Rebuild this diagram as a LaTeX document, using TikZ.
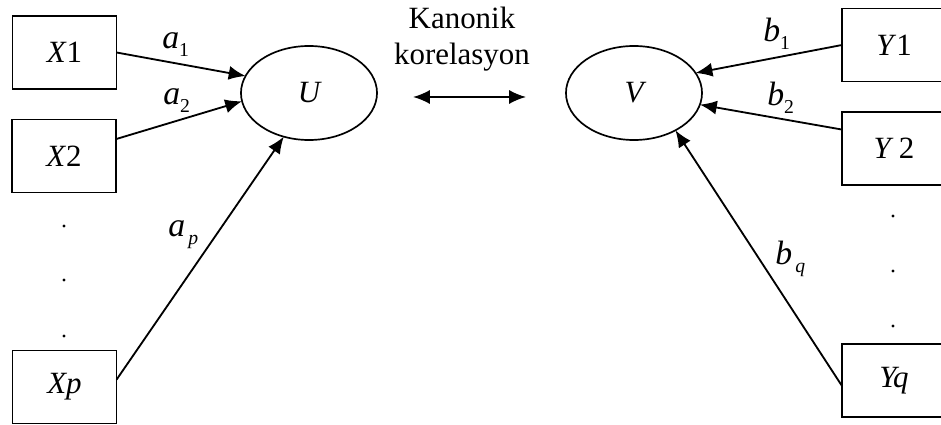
\documentclass[tikz,border=0pt]{standalone}
\usepackage{fontspec}
\setmainfont{Liberation Serif}
\usetikzlibrary{shapes.geometric,arrows.meta}

\newcommand{\coef}[2]{\textit{#1}\raisebox{-5pt}{\fontsize{14}{14}\selectfont #2}}

\begin{document}
\begin{tikzpicture}[x=0.025cm, y=-0.025cm,
	varbox/.style={shape=rectangle, draw=black, line width=1.3pt, minimum width=2.6cm, minimum height=1.825cm, inner sep=0pt, outer sep=0pt, font=\fontsize{22}{26}\selectfont},
	latent/.style={shape=ellipse, draw=black, line width=1.2pt, minimum width=3.4cm, minimum height=2.35cm, inner sep=0pt, outer sep=0pt, font=\fontsize{22}{26}\selectfont\itshape},
	coefl/.style={anchor=base west, inner sep=0pt, font=\fontsize{24}{28}\selectfont},
	link/.style={->, line width=1.3pt},
	>={Latex[length=12pt,width=10pt]}]
	
	\useasboundingbox (0,0) rectangle (941,425);
	
	\node[varbox] (x1) at (64.5, 52.5)  {\textit{X}1};
	\node[varbox] (x2) at (64, 156)     {\textit{X}2};
	\node[varbox] (xp) at (64.5, 387)   {\textit{Xp}};
	\node[varbox] (y1) at (894, 45)     {\textit{Y}1};
	\node[varbox] (y2) at (894, 148.5)  {\textit{Y}\,2};
	\node[varbox] (yq) at (894, 380.5)  {\textit{Yq}};
	
	\node[latent] (u) at (309, 93) {U};
	\node[latent] (v) at (634, 93) {V};
	
	\node[align=center, inner sep=0pt, font=\fontsize{22}{26}\selectfont] (kanonik) at (462, 39) {Kanonik\\korelasyon};
	
	\node[coefl] (a1) at (162, 49)  {\coef{a}{1}};
	\node[coefl] (a2) at (163, 105) {\coef{a}{2}};
	\node[coefl] (ap) at (168, 237) {\coef{a}{\,\textit{p}}};
	\node[coefl] (b1) at (763, 42)  {\coef{b}{1}};
	\node[coefl] (b2) at (767, 106) {\coef{b}{2}};
	\node[coefl] (bq) at (775, 265) {\coef{b}{\,\textit{q}}};
	
	\path[link] (x1.east) edge (u.165);
	\path[link] (x2.18)   edge (u.187);
	\path[link] (xp.8)    edge (u.240);
	
	\path[link] (y1.west) edge (v.18);
	\path[link] (y2.160)  edge (v.350);
	\path[link] (yq.186)  edge (v.318);
	
	\coordinate (kl) at (413, 97);
	\coordinate (kr) at (526, 97);
	\draw[<->, line width=1.3pt] (kl) -- (kr);
	
	% vertical dots
	\foreach \y in {226, 280, 336}
		\fill (64, \y) circle (1.6);
	\foreach \y in {216, 271, 326}
		\fill (893, \y) circle (1.6);
	
\end{tikzpicture}
\end{document}
